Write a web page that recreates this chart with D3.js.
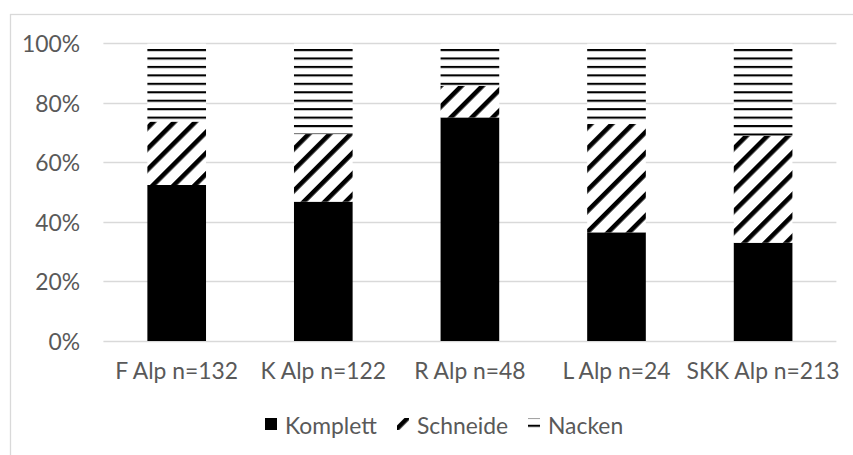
<!DOCTYPE html>
<html>
<head>
<meta charset="utf-8">
<script src="https://cdn.jsdelivr.net/npm/d3@7"></script>
<style>
  html, body { margin: 0; padding: 0; background: #fff; }
  svg { display: block; }
  text { font-family: Lato, "Open Sans", sans-serif; fill: #595959; }
</style>
</head>
<body>
<svg id="chart" width="853" height="455"></svg>
<script>
// ---- data ----
const categories = ["F Alp n=132", "K Alp n=122", "R Alp n=48", "L Alp n=24", "SKK Alp n=213"];
const seriesNames = ["Komplett", "Schneide", "Nacken"];
const komplett = [52.4, 46.8, 75.1, 36.5, 33.0];
const schneide = [21.3, 22.7, 10.6, 36.4, 35.9];
const nacken   = [26.3, 30.5, 14.3, 27.1, 31.1];
const yTicks = [0, 20, 40, 60, 80, 100];

const svg = d3.select("#chart");
const W = 853, H = 455;
const margin = { left: 103.4, right: W - 836.4, top: 43.3, bottom: H - 341 };

// Patterns
const defs = svg.append("defs");
const hp = defs.append("pattern")
  .attr("id", "horiz").attr("patternUnits", "userSpaceOnUse")
  .attr("x", 0).attr("y", 49).attr("width", 10).attr("height", 8.45);
hp.append("rect").attr("width", 10).attr("height", 8.45).attr("fill", "#fff");
hp.append("rect").attr("y", 0).attr("width", 10).attr("height", 2.1).attr("fill", "#000");

function diagPattern(id, shift) {
  const p = defs.append("pattern")
    .attr("id", id).attr("patternUnits", "userSpaceOnUse")
    .attr("width", 14.8).attr("height", 14.8)
    .attr("patternTransform", `translate(${shift},0) rotate(45)`);
  p.append("rect").attr("width", 14.8).attr("height", 14.8).attr("fill", "#fff");
  p.append("rect").attr("x", 0).attr("y", 0).attr("width", 4.6).attr("height", 14.8).attr("fill", "#000");
}
diagPattern("diag", 0);
diagPattern("diagLegend", 7.5);

const fills = { Komplett: "#000", Schneide: "url(#diag)", Nacken: "url(#horiz)" };
const legendFills = { Komplett: "#000", Schneide: "url(#diagLegend)", Nacken: "url(#horiz)" };

// Outer border
svg.append("rect")
  .attr("x", 10.5).attr("y", 14.5).attr("width", 860).attr("height", 460)
  .attr("fill", "none").attr("stroke", "#d9d9d9").attr("stroke-width", 1.3);

// Font fit: match the reference label widths
const probe = svg.append("text").attr("font-size", 100).text("Komplett");
const fs1 = 100 * 88 / probe.node().getComputedTextLength();
probe.text("F Alp n=132");
const fs2 = 100 * 128 / probe.node().getComputedTextLength();
probe.remove();
const fs = (fs1 + fs2) / 2;

const x = d3.scaleBand().domain(categories)
  .range([margin.left, W - margin.right]).paddingInner(0.6).paddingOuter(0.3);
const y = d3.scaleLinear().domain([0, 100]).range([H - margin.bottom, margin.top]);

// Gridlines
svg.append("g").selectAll("line").data(yTicks).join("line")
  .attr("x1", margin.left).attr("x2", W - margin.right)
  .attr("y1", d => Math.round(y(d)) + 0.5).attr("y2", d => Math.round(y(d)) + 0.5)
  .attr("stroke", "#d9d9d9").attr("stroke-width", 1.3);

// Y labels
svg.append("g").selectAll("text").data(yTicks).join("text")
  .attr("x", 80).attr("y", d => y(d))
  .attr("text-anchor", "end").attr("dominant-baseline", "central")
  .attr("font-size", fs).text(d => d + "%");

// Stack
const rows = categories.map((c, i) => ({ cat: c, Komplett: komplett[i], Schneide: schneide[i], Nacken: nacken[i] }));
const stacked = d3.stack().keys(seriesNames)(rows);

svg.append("g").selectAll("g").data(stacked).join("g")
  .attr("fill", d => fills[d.key])
  .selectAll("rect").data(d => d).join("rect")
  .attr("x", d => x(d.data.cat))
  .attr("width", x.bandwidth())
  .attr("y", d => y(d[1]))
  .attr("height", d => y(d[0]) - y(d[1]));

// X labels
svg.append("g").selectAll("text").data(categories).join("text")
  .attr("x", d => x(d) + x.bandwidth() / 2).attr("y", 370)
  .attr("text-anchor", "middle").attr("dominant-baseline", "central")
  .attr("font-size", fs).text(d => d);

// Legend
const legendX = [265, 397, 528];
const legend = svg.append("g").selectAll("g").data(seriesNames).join("g")
  .attr("transform", (d, i) => `translate(${legendX[i]},418)`);
legend.append("rect").attr("width", 12).attr("height", 12)
  .attr("fill", d => legendFills[d]);
legend.append("text").attr("x", 20).attr("y", 6.5)
  .attr("dominant-baseline", "central").attr("font-size", fs).text(d => d);
</script>
</body>
</html>
